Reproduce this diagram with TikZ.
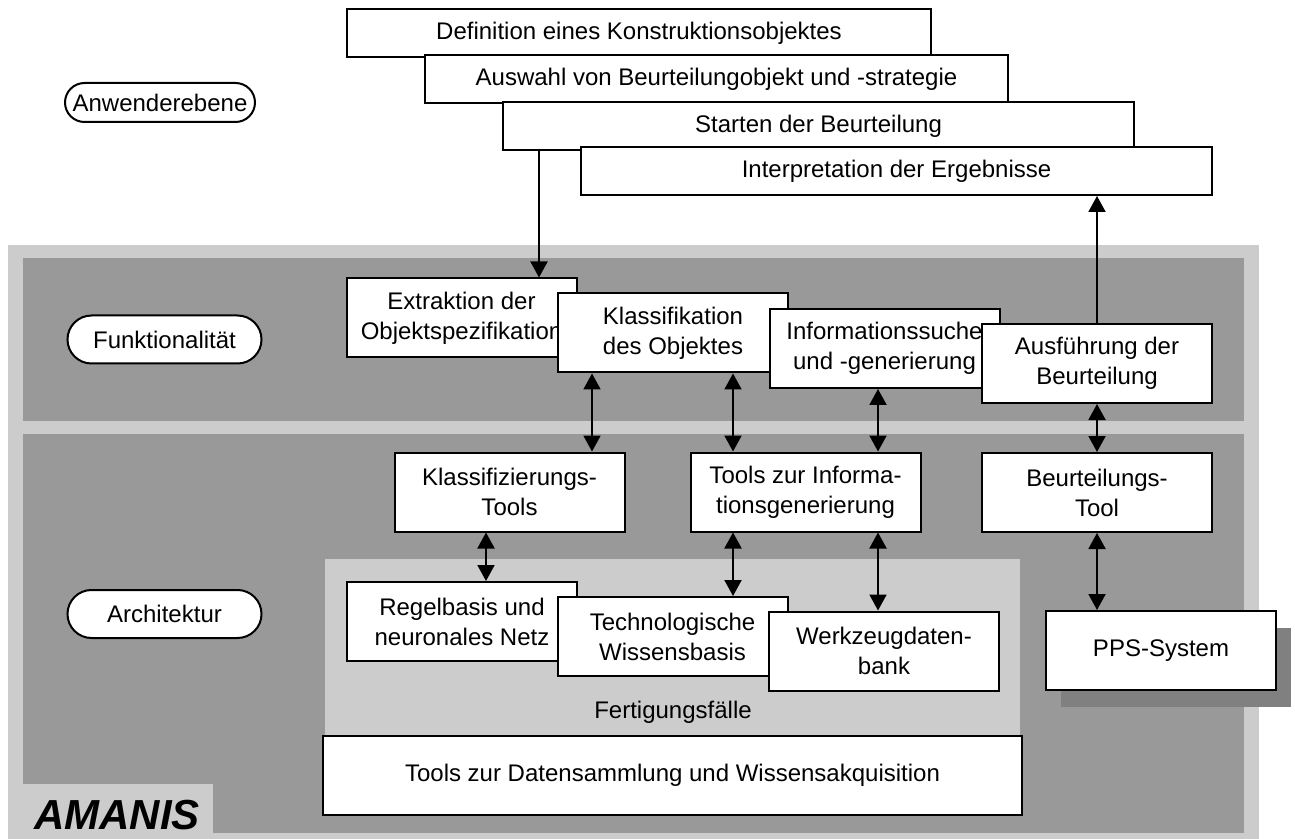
\documentclass[tikz,border=0pt]{standalone}
\usepackage{fontspec}
\setmainfont{Liberation Sans}
\usetikzlibrary{arrows.meta}

\definecolor{framelight}{HTML}{CCCCCC}
\definecolor{banddark}{HTML}{999999}
\definecolor{boxshadow}{HTML}{808080}

\begin{document}
\begin{tikzpicture}[
  x=0.5pt,
  y=-0.5pt,
  line join=miter,
  stepbox/.style={draw=black,fill=white,line width=1pt,inner sep=0pt,align=center,
    font=\fontsize{12}{15}\selectfont,minimum width=115pt,minimum height=39.5pt},
  userbox/.style={stepbox,minimum height=24pt},
  levelpill/.style={draw=black,fill=white,line width=1pt,rounded corners=12pt,inner sep=0pt,
    font=\fontsize{12}{15}\selectfont,minimum width=97pt,minimum height=24pt},
  flow/.style={draw=black,line width=1pt,-{Triangle[length=8pt,width=8.5pt]}},
  link/.style={draw=black,line width=1pt,{Triangle[length=8pt,width=8.5pt]}-{Triangle[length=8pt,width=8.5pt]}}
]
  % Keep the page at the size of the original artwork.
  \useasboundingbox (0,0) rectangle (1295,839);

  % Grey frame with the two bands and the name plate.
  \fill[framelight] (8,245) rectangle (1259,839);
  \fill[banddark] (23,258) rectangle (1244,421);
  \fill[banddark] (23,434) rectangle (1244,833);
  \fill[framelight] (23,784) rectangle (213,833);
  \fill[framelight] (325,559) rectangle (1020,736);
  \node[font=\fontsize{21}{21}\selectfont\bfseries\itshape] (amanis) at (117,815) {AMANIS};
  \node[font=\fontsize{12}{15}\selectfont] (faelle) at (673,712) {Fertigungsfälle};

  % Level labels on the left.
  \node[levelpill,minimum width=95pt,minimum height=19.5pt,rounded corners=9.75pt] (anwender) at (160,102.5) {Anwenderebene};
  \node[levelpill] (funktion) at (164.5,339.5) {Funktionalität};
  \node[levelpill] (archi) at (164.5,614) {Architektur};

  % User steps, each one overlapping the one before.
  \node[userbox,minimum width=292pt] (defin) at (639,33.5) {Definition eines Konstruktionsobjektes};
  \node[userbox,minimum width=291.5pt] (auswahl) at (716.5,79) {Auswahl von Beurteilungobjekt und -strategie};
  \node[userbox,minimum width=315.5pt] (starten) at (818.5,126) {Starten der Beurteilung};
  \node[userbox,minimum width=315.5pt] (interp) at (896.5,171) {Interpretation der Ergebnisse};

  % Functions.
  \node[stepbox] (extr) at (461.5,318) {Extraktion der\\Objektspezifikation};
  \node[stepbox] (klass) at (673,333) {Klassifikation\\des Objektes};
  \node[stepbox] (info) at (884.5,348.5) {Informationssuche\\und -generierung};
  \node[stepbox] (ausf) at (1097,363.5) {Ausführung der\\Beurteilung};

  % Tools.
  \node[stepbox] (ktool) at (509.5,492) {Klassifizierungs-\\Tools};
  \node[stepbox] (itool) at (805.5,492) {Tools zur Informa-\\tionsgenerierung};
  \node[stepbox] (btool) at (1097,492.5) {Beurteilungs-\\Tool};

  % Knowledge sources.
  \node[stepbox] (regel) at (462,621.5) {Regelbasis und\\neuronales Netz};
  \node[stepbox] (techn) at (672.5,636.5) {Technologische\\Wissensbasis};
  \node[stepbox] (werkz) at (884,651) {Werkzeugdaten-\\bank};
  \fill[boxshadow] (1061,628) rectangle (1291,707);
  \node[stepbox] (pps) at (1161,650.5) {PPS-System};
  \node[stepbox,minimum width=349.5pt] (daten) at (672.5,775.5) {Tools zur Datensammlung und Wissensakquisition};

  % Columns of the vertical connectors.
  \coordinate (colStart) at (539,0);
  \coordinate (colResult) at (1097,0);
  \coordinate (colKlass) at (592,0);
  \coordinate (colInfoA) at (733,0);
  \coordinate (colInfoB) at (878,0);
  \coordinate (colRegel) at (486,0);

  \draw[flow] (starten.south -| colStart) -- (extr.north -| colStart);
  \draw[flow] (ausf.north -| colResult) -- (interp.south -| colResult);

  \draw[link] (klass.south -| colKlass) -- (ktool.north -| colKlass);
  \draw[link] (klass.south -| colInfoA) -- (itool.north -| colInfoA);
  \draw[link] (info.south -| colInfoB) -- (itool.north -| colInfoB);
  \draw[link] (ausf.south) -- (btool.north);

  \draw[link] (ktool.south -| colRegel) -- (regel.north -| colRegel);
  \draw[link] (itool.south -| colInfoA) -- (techn.north -| colInfoA);
  \draw[link] (itool.south -| colInfoB) -- (werkz.north -| colInfoB);
  \draw[link] (btool.south -| colResult) -- (pps.north -| colResult);
\end{tikzpicture}
\end{document}
